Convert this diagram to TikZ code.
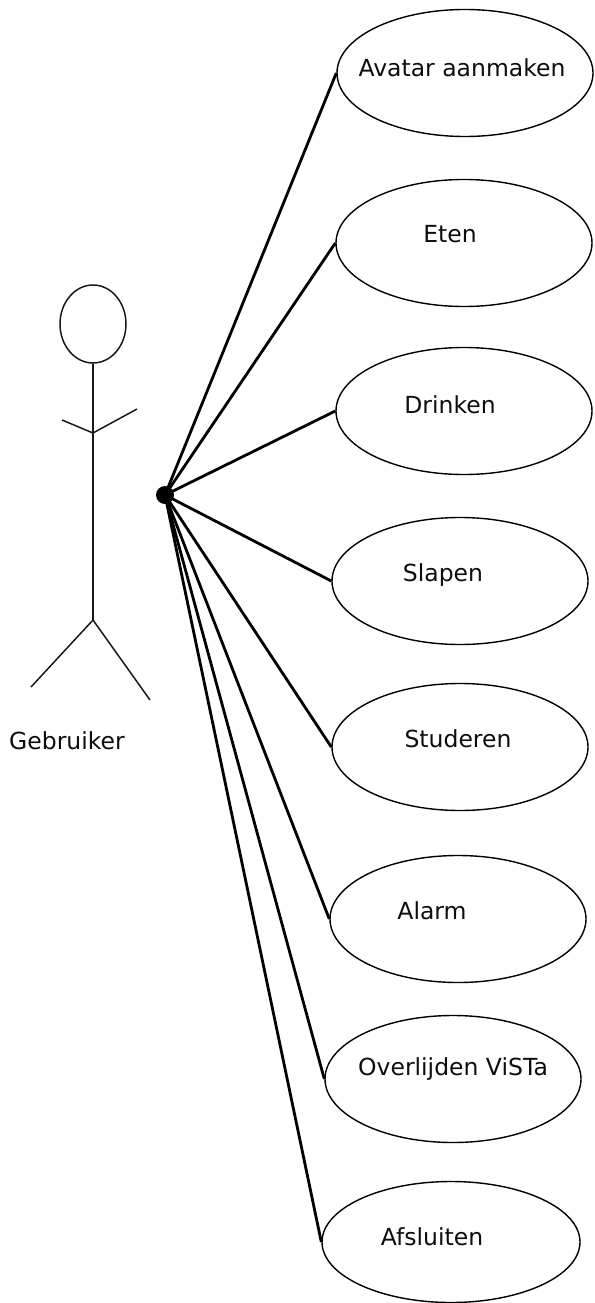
\documentclass[tikz,border=0pt]{standalone}
\usepackage{fontspec}
\setmainfont{DejaVu Sans}
\usetikzlibrary{shapes.geometric}
\begin{document}
\begin{tikzpicture}[x=1pt,y=-1pt,
  uc/.style={draw=black, line width=1.4pt, ellipse, inner sep=0pt, minimum width=256pt, minimum height=127pt},
  lbl/.style={inner sep=0pt, text=black!95, font=\fontsize{23.5pt}{26pt}\selectfont},
  assoc/.style={line width=2.8pt, black},
  fig/.style={line width=1.5pt, black!90}]
\useasboundingbox (0,0) rectangle (594,1303);
% actor
\node[fig, draw, ellipse, inner sep=0pt, minimum width=66pt, minimum height=78pt] (head) at (93,324) {};
\coordinate (neck) at (93,363);
\coordinate (shoulder) at (93,433);
\coordinate (hip) at (93,620);
\coordinate (lhand) at (62,420);
\coordinate (rhand) at (137,409);
\coordinate (lfoot) at (31,687);
\coordinate (rfoot) at (150,700);
\draw[fig] (head.south) -- (hip);
\draw[fig] (lhand) -- (shoulder) -- (rhand);
\draw[fig] (lfoot) -- (hip) -- (rfoot);
\node[lbl] (actor) at (67,741) {Gebruiker};
% hub
\node[circle, fill=black, inner sep=0pt, minimum size=18pt] (hub) at (165,495) {};
% use cases
\node[uc] (e1) at (465,73) {};
\node[lbl] (t1) at (462,68) {Avatar aanmaken};
\node[uc] (e2) at (464,243) {};
\node[lbl] (t2) at (450,234) {Eten};
\node[uc] (e3) at (464,411) {};
\node[lbl] (t3) at (450,405) {Drinken};
\node[uc] (e4) at (460,581) {};
\node[lbl] (t4) at (443,575) {Slapen};
\node[uc] (e5) at (460,747) {};
\node[lbl] (t5) at (458,739) {Studeren};
\node[uc] (e6) at (458,919) {};
\node[lbl] (t6) at (432,911) {Alarm};
\node[uc] (e7) at (453,1079) {};
\node[lbl] (t7) at (453,1069) {Overlijden ViSTa};
\node[uc, minimum width=258pt, minimum height=121pt] (e8) at (451,1242) {};
\node[lbl] (t8) at (432,1237) {Afsluiten};
% associations
\foreach \e in {e1,e2,e3,e4,e5,e6,e7,e8}
  \draw[assoc] (hub.center) -- (\e.west);
\end{tikzpicture}
\end{document}
